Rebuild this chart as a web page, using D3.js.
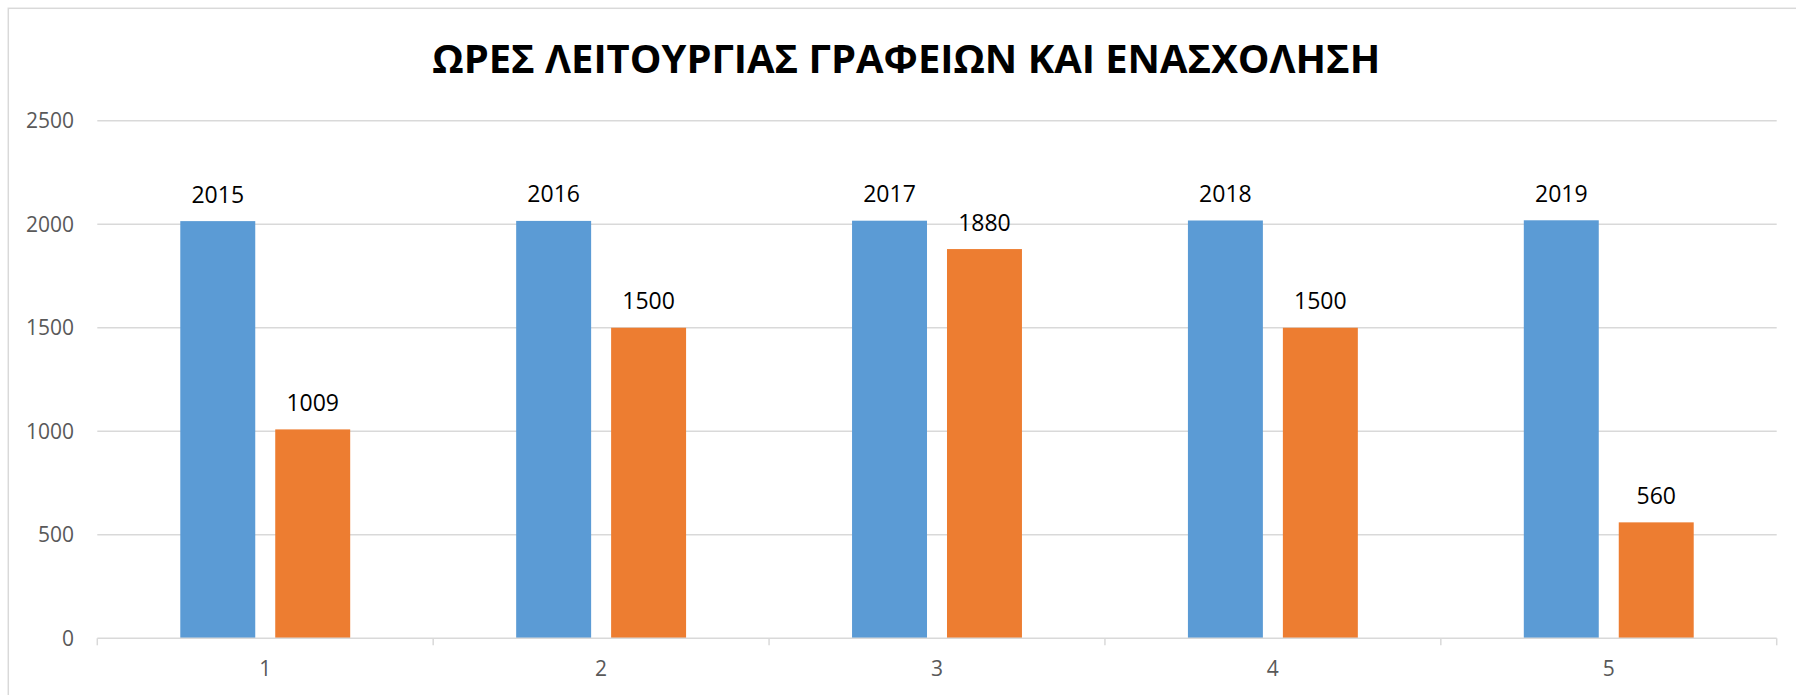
<!DOCTYPE html>
<html>
<head>
<meta charset="utf-8">
<script src="https://cdn.jsdelivr.net/npm/d3@7"></script>
<style>
  body { margin: 0; background: #fff; }
  svg { display: block; font-family: "Open Sans", "Noto Sans", sans-serif; }
</style>
</head>
<body>
<svg id="chart" width="1796" height="695"></svg>
<script>
// data
const title = "ΩΡΕΣ ΛΕΙΤΟΥΡΓΙΑΣ ΓΡΑΦΕΙΩΝ ΚΑΙ ΕΝΑΣΧΟΛΗΣΗ";
const categories = ["1", "2", "3", "4", "5"];
const seriesYear = [2015, 2016, 2017, 2018, 2019];
const seriesHours = [1009, 1500, 1880, 1500, 560];
const yTicks = [0, 500, 1000, 1500, 2000, 2500];
const colors = ["#5b9bd5", "#ed7d31"];

const svg = d3.select("#chart");
const margin = { left: 97.3, right: 1776.7, top: 120.7, bottom: 638.3 };

// chart area border
svg.append("rect")
  .attr("x", 8.3).attr("y", 8.3)
  .attr("width", 1900).attr("height", 800)
  .attr("fill", "none")
  .attr("stroke", "#d9d9d9")
  .attr("stroke-width", 1.5);

// title
svg.append("text")
  .attr("x", 432.3)
  .attr("y", 73.3)
  .attr("textLength", 948)
  .attr("lengthAdjust", "spacingAndGlyphs")
  .attr("font-size", 40)
  .attr("font-weight", "bold")
  .attr("fill", "#000")
  .text(title);

// scales
const x0 = d3.scaleBand()
  .domain(categories)
  .range([margin.left, margin.right])
  .paddingInner(0).paddingOuter(0);

const x1 = d3.scaleBand()
  .domain([0, 1])
  .range([0, x0.bandwidth()])
  .paddingInner(0.2105)
  .paddingOuter(0.874);

const y = d3.scaleLinear()
  .domain([0, 2500])
  .range([margin.bottom, margin.top]);

// gridlines
svg.append("g")
  .selectAll("line")
  .data(yTicks.filter(d => d > 0))
  .enter().append("line")
  .attr("x1", margin.left).attr("x2", margin.right)
  .attr("y1", d => y(d)).attr("y2", d => y(d))
  .attr("stroke", "#d9d9d9")
  .attr("stroke-width", 1.5);

// y labels
svg.append("g")
  .selectAll("text")
  .data(yTicks)
  .enter().append("text")
  .attr("x", 74)
  .attr("y", d => y(d) + 7.5)
  .attr("text-anchor", "end")
  .attr("font-size", 21)
  .attr("fill", "#595959")
  .text(d => d);

// bars
const rows = categories.map((c, i) => ({ cat: c, values: [seriesYear[i], seriesHours[i]] }));

const groups = svg.append("g")
  .selectAll("g")
  .data(rows)
  .enter().append("g")
  .attr("transform", d => "translate(" + x0(d.cat) + ",0)");

groups.selectAll("rect")
  .data(d => d.values.map((v, k) => ({ k: k, v: v })))
  .enter().append("rect")
  .attr("x", d => x1(d.k))
  .attr("y", d => y(d.v))
  .attr("width", x1.bandwidth())
  .attr("height", d => y(0) - y(d.v))
  .attr("fill", d => colors[d.k]);

groups.selectAll("text")
  .data(d => d.values.map((v, k) => ({ k: k, v: v })))
  .enter().append("text")
  .attr("x", d => x1(d.k) + x1.bandwidth() / 2)
  .attr("y", d => y(d.v) - 18.5)
  .attr("text-anchor", "middle")
  .attr("font-size", 23)
  .attr("fill", "#000")
  .text(d => d.v);

// x axis line and ticks
const xAxis = svg.append("g");
xAxis.append("line")
  .attr("x1", margin.left).attr("x2", margin.right)
  .attr("y1", y(0)).attr("y2", y(0))
  .attr("stroke", "#d9d9d9")
  .attr("stroke-width", 1.5);

const bounds = categories.map(c => x0(c)).concat([margin.right]);
xAxis.selectAll("line.tick")
  .data(bounds)
  .enter().append("line")
  .attr("class", "tick")
  .attr("x1", d => d).attr("x2", d => d)
  .attr("y1", y(0)).attr("y2", y(0) + 7)
  .attr("stroke", "#d9d9d9")
  .attr("stroke-width", 1.5);

xAxis.selectAll("text")
  .data(categories)
  .enter().append("text")
  .attr("x", d => x0(d) + x0.bandwidth() / 2)
  .attr("y", 676)
  .attr("text-anchor", "middle")
  .attr("font-size", 21)
  .attr("fill", "#595959")
  .text(d => d);
</script>
</body>
</html>
